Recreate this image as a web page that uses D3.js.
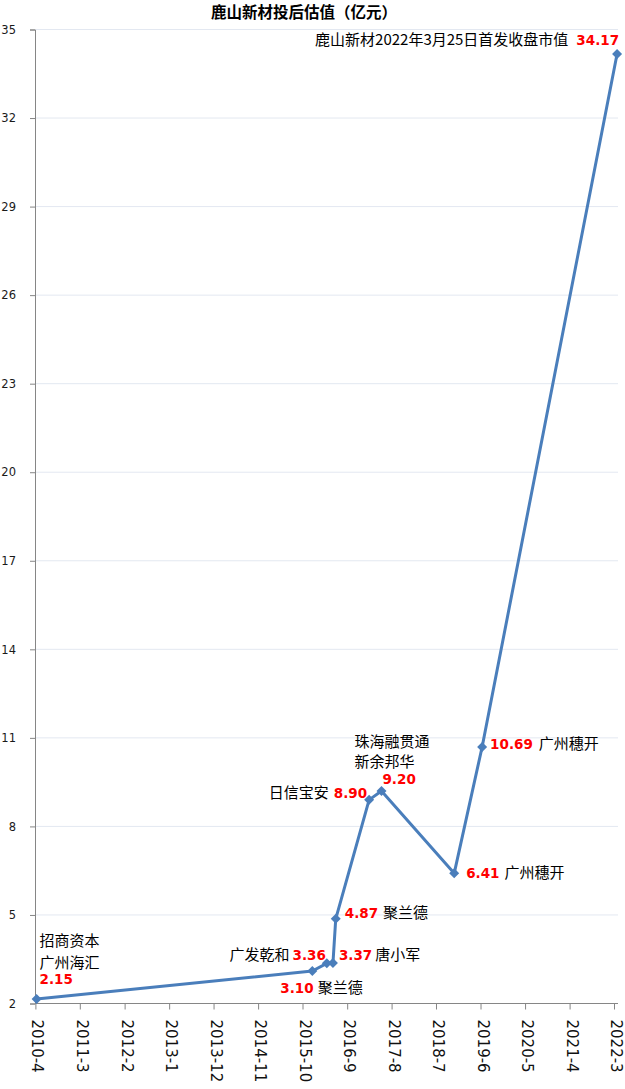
<!DOCTYPE html>
<html>
<head>
<meta charset="utf-8">
<script src="https://cdn.jsdelivr.net/npm/d3@7"></script>
<style>
  body { margin: 0; background: #fff; }
  svg { display: block; }
</style>
</head>
<body>
<svg id="chart" width="625" height="1089"></svg>
<script>
// Data
const dates = ["2010-04-10", "2015-12-14", "2016-04-01", "2016-05-17", "2016-06-07",
               "2017-02-13", "2017-05-17", "2018-11-15", "2019-06-13", "2022-03-24"];
const values = [2.15, 3.10, 3.36, 3.37, 4.87, 8.90, 9.20, 6.41, 10.69, 34.17];
const investors = [["招商资本", "广州海汇"], ["聚兰德"], ["广发乾和"], ["唐小军"], ["聚兰德"],
                   ["日信宝安"], ["珠海融贯通", "新余邦华"], ["广州穗开"], ["广州穗开"],
                   ["鹿山新材2022年3月25日首发收盘市值"]];
const yTicks = [2, 5, 8, 11, 14, 17, 20, 23, 26, 29, 32, 35];
const xTickLabels = ["2010-4", "2011-3", "2012-2", "2013-1", "2013-12", "2014-11", "2015-10",
                     "2016-9", "2017-8", "2018-7", "2019-6", "2020-5", "2021-4", "2022-3"];
const title = "鹿山新材投后估值（亿元）";

// label layout: how each label sits around its marker
// mode: "stack" = names above, number below (left aligned); "after" = number then name; "before" = name then number
const labelLayout = [
  {mode: "stack", dx: 3, dy: -21, nx: 3, lines: [-59, -37]},
  {mode: "after", dx: -32, dy: 16, gap: 4},
  {mode: "before", dx: -1, dy: -9, gap: 3},
  {mode: "after", dx: 6, dy: -9, gap: 3},
  {mode: "after", dx: 9, dy: -6, gap: 5},
  {mode: "before", dx: -2, dy: -7, gap: 5},
  {mode: "stack", dx: 1, dy: -12, nx: -27, lines: [-49, -29]},
  {mode: "after", dx: 12, dy: -1, gap: 5},
  {mode: "after", dx: 8, dy: -4, gap: 6},
  {mode: "before", dx: 2, dy: -14, gap: 8}
];

const parseDay = d3.timeParse("%Y-%m-%d");
const parseMonth = d3.timeParse("%Y-%m");
const points = dates.map((d, i) => ({date: parseDay(d), value: values[i], names: investors[i]}));

const svg = d3.select("#chart");
const axisColor = "#868686";
const lineColor = "#4a7ebb";
const cjk = "'Noto Sans CJK SC', sans-serif";
const numFont = "'DejaVu Sans', sans-serif";

const x = d3.scaleTime()
  .domain([new Date(2010, 2, 29), new Date(2022, 2, 31)])
  .range([35, 618]);
const y = d3.scaleLinear().domain([2, 35]).range([1003.5, 29.5]);

// gridlines
svg.append("g").selectAll("line")
  .data(yTicks.slice(1))
  .join("line")
    .attr("x1", 35).attr("x2", 618)
    .attr("y1", d => y(d)).attr("y2", d => y(d))
    .attr("stroke", "#e3e8f1").attr("stroke-width", 1);

// y axis
const yAxis = svg.append("g")
  .attr("transform", "translate(35,0)")
  .call(d3.axisLeft(y).tickValues(yTicks).tickSize(5).tickPadding(6).tickFormat(d3.format("d")));
yAxis.select(".domain").attr("stroke", axisColor);
yAxis.selectAll(".tick line").attr("stroke", axisColor);
yAxis.selectAll(".tick text")
  .attr("x", -19)
  .style("font-family", numFont).style("font-size", "11.5px").attr("fill", "#1a1a1a");

// x axis
const xAxis = svg.append("g")
  .attr("transform", `translate(0,${y(2)})`)
  .call(d3.axisBottom(x)
    .tickValues(xTickLabels.map(parseMonth))
    .tickSize(6)
    .tickFormat((d, i) => xTickLabels[i]));
xAxis.select(".domain").attr("stroke", axisColor).attr("d", `M35,0H618`);
xAxis.selectAll(".tick line").attr("stroke", axisColor);
xAxis.selectAll(".tick text")
  .attr("transform", "rotate(90)")
  .attr("x", 16).attr("y", -1.5).attr("dy", null)
  .attr("text-anchor", "start")
  .attr("dominant-baseline", "central")
  .style("font-family", numFont).style("font-size", "15px").attr("fill", "#111");

// title
svg.append("text")
  .attr("x", 304).attr("y", 18)
  .attr("text-anchor", "middle")
  .style("font-family", cjk).style("font-size", "15.5px").style("font-weight", "700")
  .text(title);

// line
const line = d3.line().x(d => x(d.date)).y(d => y(d.value));
svg.append("path")
  .datum(points)
  .attr("d", line)
  .attr("fill", "none")
  .attr("stroke", lineColor)
  .attr("stroke-width", 3)
  .attr("stroke-linejoin", "round");

// markers
svg.append("g").selectAll("path")
  .data(points)
  .join("path")
    .attr("transform", d => `translate(${x(d.date)},${y(d.value)})`)
    .attr("d", "M0,-5L5,0L0,5L-5,0Z")
    .attr("fill", lineColor);

// labels
const labels = svg.append("g");
const base = 5.5; // center -> baseline
points.forEach((p, i) => {
  const L = labelLayout[i];
  const px = x(p.date), py = y(p.value);
  const num = p.value.toFixed(2);
  if (L.mode === "stack") {
    p.names.forEach((n, k) => {
      labels.append("text")
        .attr("x", px + L.nx).attr("y", py + L.lines[k] + base)
        .style("font-family", cjk).style("font-size", "15px").attr("fill", "#000")
        .text(n);
    });
    labels.append("text")
      .attr("x", px + L.dx).attr("y", py + L.dy + base)
      .style("font-family", numFont).style("font-size", "13.5px").style("font-weight", "bold")
      .attr("fill", "#ff0000")
      .text(num);
  } else {
    const t = labels.append("text")
      .attr("x", px + L.dx).attr("y", py + L.dy + base)
      .attr("text-anchor", L.mode === "after" ? "start" : "end");
    const parts = L.mode === "after"
      ? [{s: num, red: true}, {s: p.names[0], red: false}]
      : [{s: p.names[0], red: false}, {s: num, red: true}];
    parts.forEach((part, k) => {
      const ts = t.append("tspan").text(part.s);
      if (k > 0) ts.attr("dx", L.gap);
      if (part.red) {
        ts.style("font-family", numFont).style("font-size", "13.5px")
          .style("font-weight", "bold").attr("fill", "#ff0000");
      } else {
        ts.style("font-family", cjk).style("font-size", "15px").attr("fill", "#000");
      }
    });
  }
});
</script>
</body>
</html>
